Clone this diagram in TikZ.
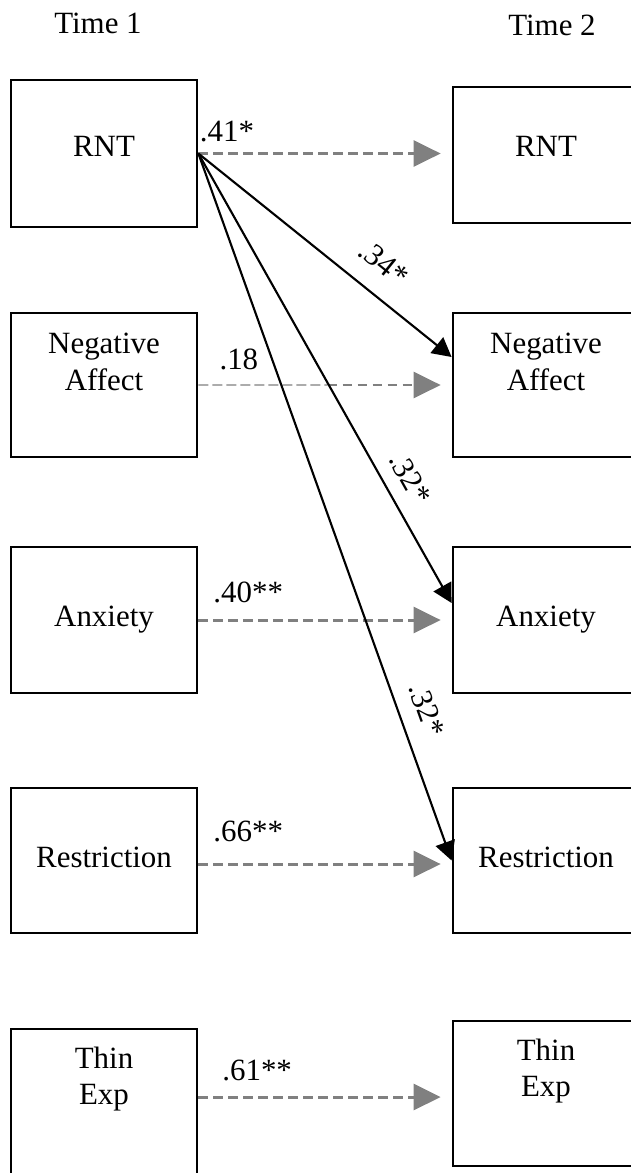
\documentclass[tikz,border=0pt]{standalone}
\usepackage{fontspec}
\setmainfont{Liberation Serif}
\usetikzlibrary{arrows.meta,calc}

\tikzset{every picture/.style={line width=1.2pt}}
\tikzset{
  box/.style={draw, line width=1.6pt, minimum width=3.72cm, minimum height=2.9cm, inner sep=0pt},
  boxtxt/.style={align=center, font=\fontsize{17.6}{21}\selectfont},
  coef/.style={font=\fontsize{17.6}{21}\selectfont, inner sep=0pt},
  graylink/.style={draw=gray, line width=1.7pt, dash pattern=on 0.19cm off 0.11cm,
    -{Triangle[length=0.54cm,width=0.52cm]}, shorten >=0.22cm},
  faintlink/.style={draw=gray, line width=0.7pt, dash pattern=on 0.2cm off 0.08cm},
  blacklink/.style={line width=1.2pt, -{Triangle[length=0.38cm,width=0.4cm]}},
}

\begin{document}
\begin{tikzpicture}[x=0.02cm, y=-0.02cm]
\useasboundingbox (0,0) rectangle (631,1173);

\node[boxtxt] (time1) at (98,23) {Time 1};
    \node[boxtxt] (time2) at (552,25) {Time 2};

% Time 1 boxes
\node[box, minimum height=2.94cm, label={[boxtxt, yshift=0.14cm]center:RNT}] (rnt1) at (104,153.5) {};
    \node[box, minimum height=2.88cm, label={[boxtxt, yshift=0.46cm]center:{Negative\\Affect}}] (na1) at (104,385) {};
    \node[box, minimum height=2.92cm, label={[boxtxt]center:Anxiety}] (anx1) at (104,620) {};
    \node[box, label={[boxtxt, yshift=0.06cm]center:Restriction}] (res1) at (104,860.5) {};
    \node[box, minimum height=2.92cm, label={[boxtxt, yshift=0.46cm]center:{Thin\\Exp}}] (thin1) at (104,1102) {};

% Time 2 boxes
\node[box, minimum height=2.72cm, label={[boxtxt, yshift=0.18cm]center:RNT}] (rnt2) at (546,155) {};
    \node[box, minimum height=2.88cm, label={[boxtxt, yshift=0.46cm]center:{Negative\\Affect}}] (na2) at (546,385) {};
    \node[box, minimum height=2.92cm, label={[boxtxt]center:Anxiety}] (anx2) at (546,620) {};
    \node[box, label={[boxtxt, yshift=0.06cm]center:Restriction}] (res2) at (546,860.5) {};
    \node[box, label={[boxtxt, yshift=0.45cm]center:{Thin\\Exp}}] (thin2) at (546,1093.5) {};

% stability paths
\draw[graylink] (rnt1.east) -- (rnt1.east -| rnt2.west)
        node[coef, pos=0.113, above=0.2cm] {.41*};

\coordinate (nasplit) at ($(na1.east)!0.51!(na1.east -| na2.west)$);
    \draw[faintlink] (na1.east) -- (nasplit);
    \draw[graylink] (nasplit) -- (nasplit -| na2.west);
    \node[coef, anchor=south] at ([xshift=0.81cm, yshift=0.28cm]na1.east) {.18};

\draw[graylink] (anx1.east) -- (anx1.east -| anx2.west)
        node[coef, pos=0.197, above=0.32cm] {.40**};

\coordinate (resstart) at ([yshift=-0.07cm]res1.east);
    \draw[graylink] (resstart) -- (resstart -| res2.west)
        node[coef, pos=0.197, above=0.42cm] {.66**};

\coordinate (thinstart) at ([yshift=0.1cm]thin1.east);
    \draw[graylink] (thinstart) -- (thinstart -| thin2.west)
        node[coef, pos=0.232, above=0.3cm] {.61**};

% cross-lagged paths from RNT
\draw[blacklink] (rnt1.east) -- ([yshift=0.56cm]na2.west)
        node[coef, sloped, pos=0.656, above=0.38cm] {.34*};
    \draw[blacklink] (rnt1.east) -- ([yshift=0.34cm]anx2.west)
        node[coef, sloped, pos=0.75, above=0.27cm] {.32*};
    \draw[blacklink] (rnt1.east) -- (res2.west)
        node[coef, sloped, pos=0.8, above=0.32cm] {.32*};

\end{tikzpicture}
\end{document}
